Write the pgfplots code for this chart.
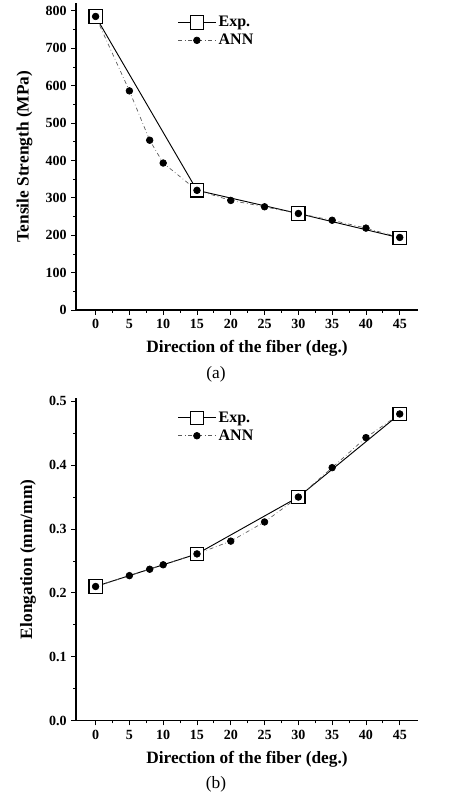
\documentclass[border=0pt]{standalone}
\usepackage{pgfplots}
\pgfplotsset{compat=1.18}
\usepackage{fontspec}
\setmainfont{Liberation Serif}

\pgfplotsset{
  figstyle/.style={
    scale only axis,
    width=256.5pt,
    axis x line*=bottom,
    axis y line*=left,
    xmin=-2.9, xmax=47.7,
    xtick={0,5,...,45},
    minor x tick num=1,
    minor y tick num=1,
    tick align=outside,
    major tick length=3.5pt,
    minor tick length=2pt,
    every tick/.style={black, line width=0.6pt},
    axis line style={line width=0.8pt},
    /pgf/number format/assume math mode=true,
    ticklabel style={font=\fontsize{10.5}{12}\selectfont\bfseries},
    label style={font=\fontsize{13}{15}\selectfont\bfseries},
    xlabel={Direction of the fiber (deg.)},
    xlabel style={yshift=-2pt},
    ylabel style={yshift=3pt},
    legend style={draw=none, fill=none, at={(rel axis cs:0.285,0.975)}, anchor=north west,
      font=\fontsize{12}{14}\selectfont\bfseries, row sep=0pt,
      legend cell align=left},
    legend image code/.code={
      \draw[mark repeat=2, mark phase=2, #1] plot coordinates {(0pt,0pt) (14pt,0pt) (28pt,0pt)};
    },
  },
  exp/.style={black, line width=0.7pt, mark=square*, mark size=5pt,
    mark options={solid, fill=white, draw=black, line width=0.9pt}},
  ann/.style={gray!70!black, line width=0.5pt, dash dot, mark=*, mark size=2.5pt,
    mark options={solid, fill=black, draw=black}},
}

\begin{document}
\begin{tikzpicture}
\path[use as bounding box] (0pt,0pt) rectangle (337.5pt,600pt);

% (a) tensile strength
\begin{axis}[figstyle,
  at={(57pt,367.5pt)}, anchor=south west,
  height=230.25pt,
  ymin=0, ymax=821,
  ytick={0,100,...,800},
  ylabel={Tensile Strength (MPa)},
]
\addplot[exp] coordinates {(0,785) (15,320) (30,258) (45,193)};
\addlegendentry{Exp.}
\addplot[ann] coordinates {
  (0,785) (5,586) (8,454) (10,393) (15,320) (20,293) (25,276)
  (30,258) (35,240) (40,219) (45,194)
};
\addlegendentry{ANN}
\end{axis}
\node[font=\fontsize{13}{15}\selectfont] at (162pt,319.5pt) {(a)};

% (b) elongation
\begin{axis}[figstyle,
  at={(57pt,59.5pt)}, anchor=south west,
  height=242pt,
  ymin=0, ymax=0.505,
  ytick={0,0.1,...,0.5},
  yticklabel style={/pgf/number format/.cd, fixed, fixed zerofill, precision=1},
  ylabel={Elongation (mm/mm)},
]
\addplot[exp] coordinates {(0,0.21) (15,0.261) (30,0.350) (45,0.480)};
\addlegendentry{Exp.}
\addplot[ann] coordinates {
  (0,0.210) (5,0.227) (8,0.237) (10,0.244) (15,0.261) (20,0.281) (25,0.311)
  (30,0.350) (35,0.396) (40,0.443) (45,0.480)
};
\addlegendentry{ANN}
\end{axis}
\node[font=\fontsize{13}{15}\selectfont] at (162pt,12pt) {(b)};
\end{tikzpicture}
\end{document}
